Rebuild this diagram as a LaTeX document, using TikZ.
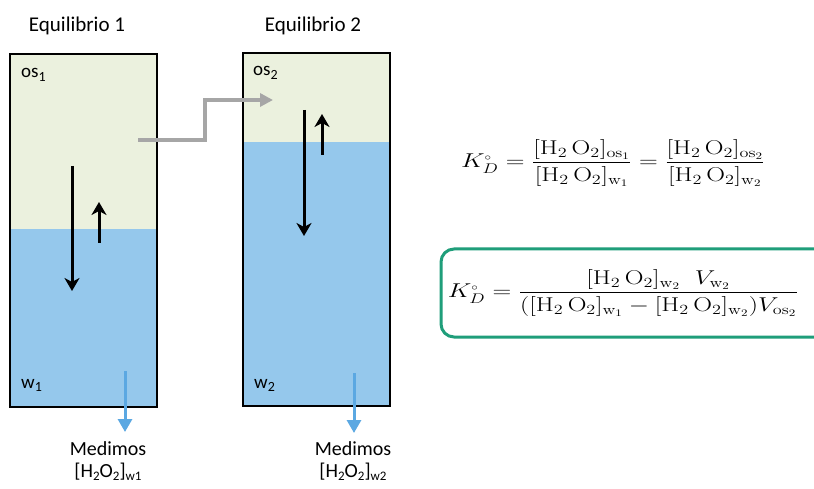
\documentclass[tikz,border=0pt]{standalone}
\usepackage{fix-cm}
\usepackage{amsmath}
\usepackage{graphicx}
\usepackage{fontspec}
\newfontfamily\calibri{Carlito}
\usetikzlibrary{arrows.meta}
\definecolor{osg}{HTML}{EBF1DE}
\definecolor{wb}{HTML}{95C8EC}
\definecolor{bluearr}{HTML}{5BA8E2}
\definecolor{grayarr}{HTML}{A6A6A6}
\definecolor{eqgreen}{HTML}{1F9E7A}
\tikzset{
  tank/.style={draw=black, line width=2pt, inner sep=0pt, minimum width=147pt, minimum height=353pt},
  lbl/.style={font=\calibri\fontsize{19}{22}\selectfont, inner sep=0pt},
  medl/.style={font=\calibri\fontsize{20}{23}\selectfont, inner sep=0pt},
  ttl/.style={font=\calibri\fontsize{21}{24}\selectfont, inner sep=0pt},
  bigarr/.style={line width=3pt, -{Stealth[length=13pt,width=15pt,inset=4pt]}},
  measarr/.style={bluearr, line width=3pt, -{Triangle[length=13pt,width=14pt]}},
  transf/.style={grayarr, line width=4pt, -{Triangle[length=13pt,width=13pt]}},
  eqn/.style={font=\fontsize{20}{24}\selectfont, inner sep=0pt},
  eqbox/.style={draw=eqgreen, line width=3pt, rounded corners=13pt}
}
\newcommand{\hh}{[\mathrm{H}_2\,\mathrm{O}_2]}
\newcommand{\kd}{K_D^{\scriptscriptstyle\circ}}
\newcommand{\subn}[1]{\raisebox{-0.35ex}{\fontsize{14}{16}\selectfont #1}}
\newcommand{\subm}[1]{\raisebox{-0.4ex}{\fontsize{13}{15}\selectfont #1}}
\begin{document}
\begin{tikzpicture}[x=1pt,y=-1pt]
\useasboundingbox (0,0) rectangle (814,489);
\fill[white] (0,0) rectangle (814,489);
% tank 1
\fill[osg] (10,54) rectangle (157,229);
\fill[wb] (10,229) rectangle (157,407);
\node[tank] (t1) at (83.5,230.5) {};
% tank 2
\fill[osg] (243,53) rectangle (390,142);
\fill[wb] (243,142) rectangle (390,406);
\node[tank] (t2) at (316.5,229.5) {};
% titles
\node[ttl] (title1) at (77,26) {Equilibrio 1};
\node[ttl] (title2) at (313,26) {Equilibrio 2};
% phase labels
\node[lbl, anchor=base west] (os1) at (21,78) {os\subn{1}};
\node[lbl, anchor=base west] (os2) at (253,76) {os\subn{2}};
\node[lbl, anchor=base west] (w1) at (21,388) {w\subn{1}};
\node[lbl, anchor=base west] (w2) at (254,388) {w\subn{2}};
% exchange arrows tank 1
\coordinate (a1s) at (72,166);
\coordinate (a1e) at (72,291);
\coordinate (b1s) at (99,243);
\coordinate (b1e) at (99,202);
\draw[bigarr] (a1s) -- (a1e);
\draw[bigarr] (b1s) -- (b1e);
% exchange arrows tank 2
\coordinate (a2s) at (304,110);
\coordinate (a2e) at (304,236);
\coordinate (b2s) at (322,155);
\coordinate (b2e) at (322,114);
\draw[bigarr] (a2s) -- (a2e);
\draw[bigarr] (b2s) -- (b2e);
% transfer arrow
\coordinate (gs) at (138,140);
\coordinate (ge) at (273,100);
\draw[transf] (gs) -- (205,140) |- (ge);
% measurement arrows
\coordinate (m1s) at (125,371);
\coordinate (m1e) at (125,432);
\coordinate (m2s) at (354,373);
\coordinate (m2e) at (354,433);
\draw[measarr] (m1s) -- (m1e);
\draw[measarr] (m2s) -- (m2e);
% measurement labels
\node[medl, align=center] (med1) at (108,461) {Medimos\\[-1pt]{[H\subm{2}O\subm{2}]\subm{w1}}};
\node[medl, align=center] (med2) at (353,461) {Medimos\\[-1pt]{[H\subm{2}O\subm{2}]\subm{w2}}};
% equations
\node[eqn] (eq1) at (613,163) {\scalebox{1.3}[1]{$\kd = \dfrac{\hh_{\mathrm{os}_1}}{\hh_{\mathrm{w}_1}} = \dfrac{\hh_{\mathrm{os}_2}}{\hh_{\mathrm{w}_2}}$}};
\draw[eqbox] (830,249) -- (441,249) -- (441,337) -- (830,337);
\node[eqn] (eq2) at (623,293) {\scalebox{1.3}[1]{$\kd = \dfrac{\hh_{\mathrm{w}_2}\;\; V_{\mathrm{w}_2}}{(\hh_{\mathrm{w}_1} - \hh_{\mathrm{w}_2})V_{\mathrm{os}_2}}$}};
\end{tikzpicture}
\end{document}
